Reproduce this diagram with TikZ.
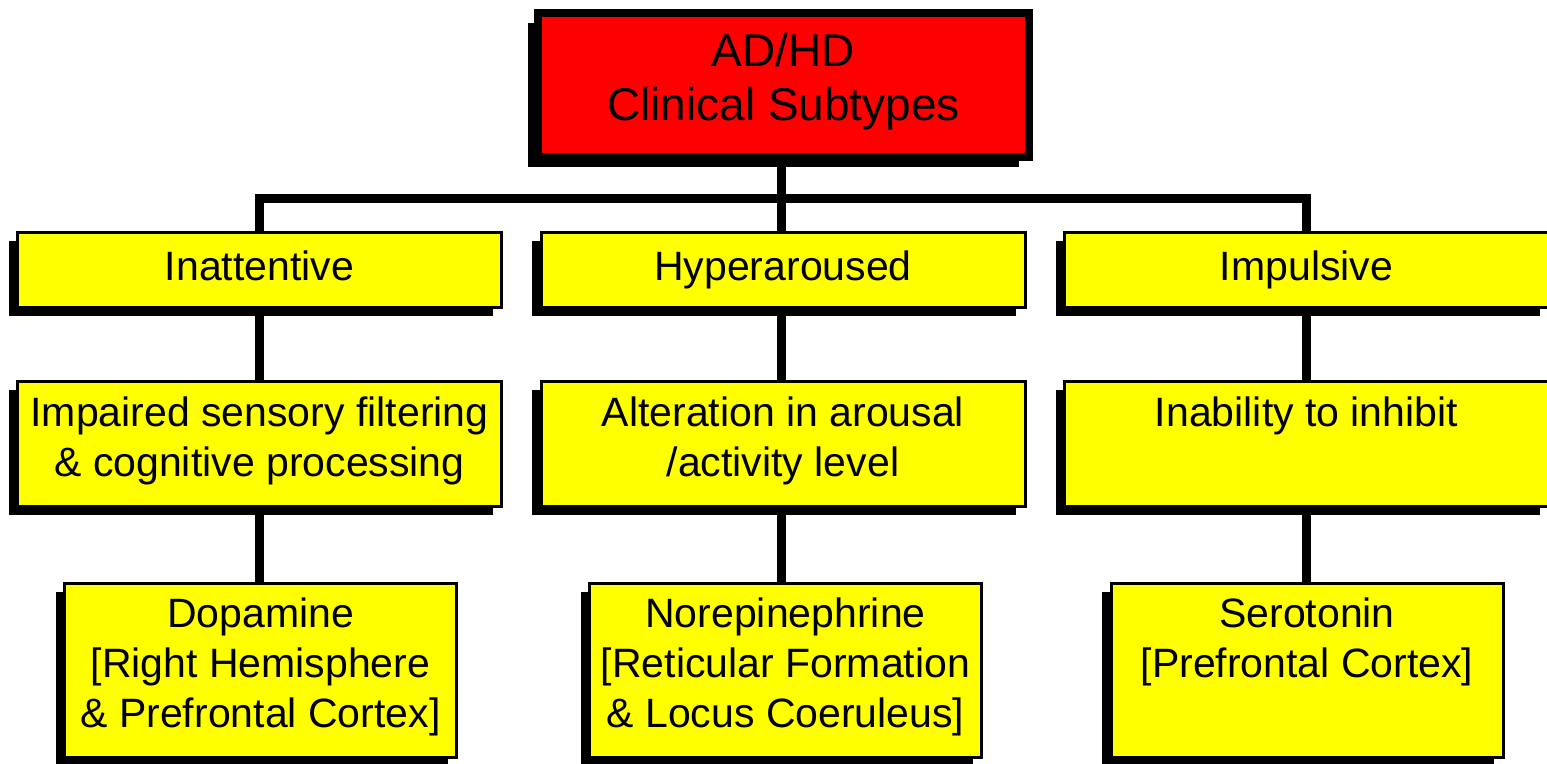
\documentclass[tikz,border=0pt]{standalone}
\usepackage{fontspec}
\setmainfont{Liberation Sans}
\usetikzlibrary{shapes, shadows}
\definecolor{boxyellow}{RGB}{255,255,0}
\definecolor{boxred}{RGB}{255,0,0}

\begin{document}
\begin{tikzpicture}[x=0.75pt, y=-0.75pt,
  head/.style={rectangle, draw, line width=6pt, fill=boxred, inner sep=0pt, align=center,
    minimum width=368.25pt, minimum height=108pt,
    font=\fontsize{34.5}{40.5}\selectfont, execute at begin node=\strut, execute at end node=\strut,
    drop shadow={shadow xshift=-7.5pt, shadow yshift=-7.5pt, fill=black, opacity=1}},
  box/.style={rectangle, draw, line width=2.25pt, fill=boxyellow, inner sep=0pt, align=center,
    font=\fontsize{30.75}{37.5}\selectfont, execute at begin node=\strut, execute at end node=\strut,
    drop shadow={shadow xshift=-6.4pt, shadow yshift=-6.4pt, fill=black, opacity=1}},
  subtype/.style={box, minimum width=363pt, minimum height=56.25pt},
  deficit/.style={box, minimum width=363pt, minimum height=93.75pt},
  transmitter/.style={box, minimum width=294pt, minimum height=130.5pt},
  link/.style={line width=6.5pt}]

\useasboundingbox (0,0) rectangle (1547,764);

% top
\node[head] (text0) at (783.5,85) {AD/HD\\Clinical Subtypes};
\coordinate (bus) at (781.5,198.5);

% subtypes
\node[subtype] (text1) at (259.5,270) {Inattentive};
\node[subtype] (text2) at (783,270) {Hyperaroused};
\node[subtype] (text3) at (1306.5,270) {Impulsive};

% deficits
\node[deficit] (text4) at (259.5,444) {Impaired sensory filtering\\\& cognitive processing};
\node[deficit] (text5) at (783,444) {Alteration in arousal\\/activity level};
\node[deficit] (text6) at (1306.5,444) {Inability to inhibit\\};

% transmitters
\node[transmitter] (text7) at (260.5,670.5) {Dopamine\\{[}Right Hemisphere\\\& Prefrontal Cortex{]}};
\node[transmitter] (text8) at (785.5,670.5) {Norepinephrine\\{[}Reticular Formation\\\& Locus Coeruleus{]}};
\node[transmitter] (text9) at (1307,670.5) {Serotonin\\{[}Prefrontal Cortex{]}\\};

\draw[link] (text0.south -| bus) -- (bus);
\draw[link] (text1.north) |- (bus) -| (text3.north);
\draw[link] (bus) -- (text2.north -| bus);

\draw[link] (text1) -- (text4);
\draw[link] (text2.south -| bus) -- (text5.north -| bus);
\draw[link] (text3) -- (text6);
\draw[link] (text4.south) -- (text4.south |- text7.north);
\draw[link] (text5.south -| bus) -- (text8.north -| bus);
\draw[link] (text6.south) -- (text6.south |- text9.north);

\end{tikzpicture}
\end{document}
